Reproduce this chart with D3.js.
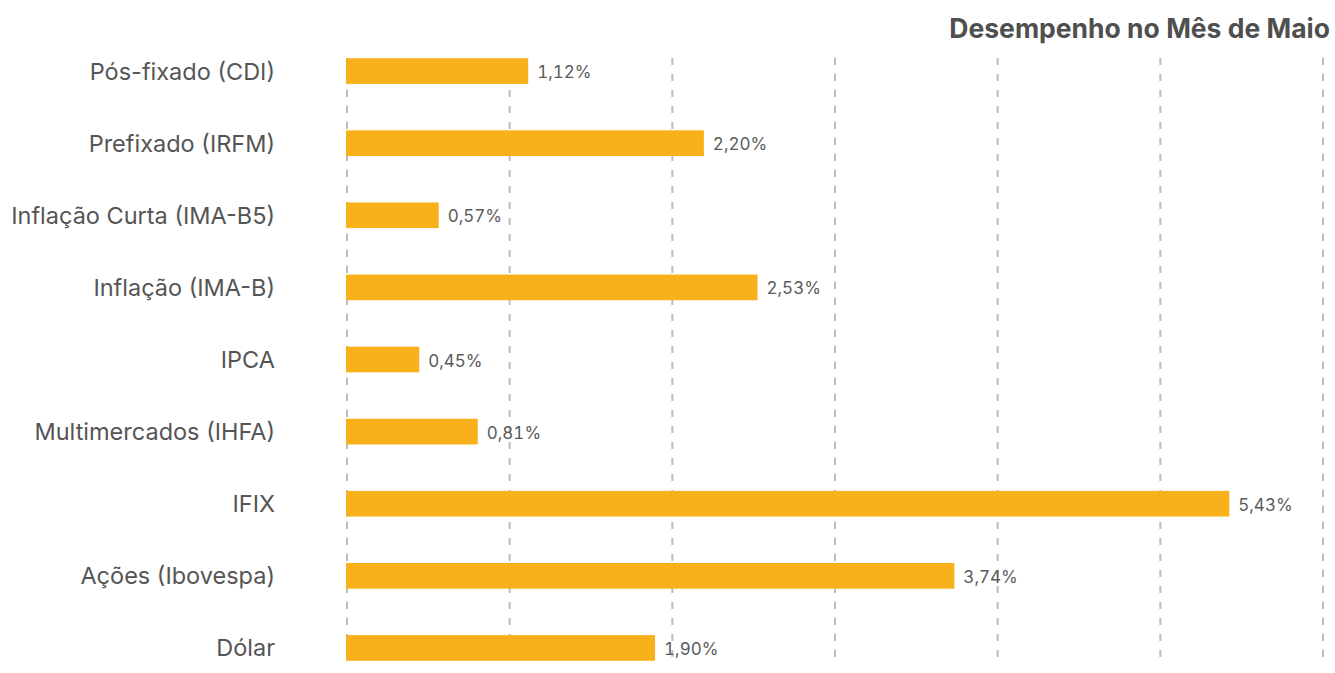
<!DOCTYPE html>
<html>
<head>
<meta charset="utf-8">
<script src="https://cdn.jsdelivr.net/npm/d3@7"></script>
<style>
  html, body { margin: 0; padding: 0; background: #fff; }
  #chart { width: 1335px; height: 673px; }
  text { font-family: Inter, "Noto Sans", sans-serif; }
</style>
</head>
<body>
<div id="chart"></div>
<script>
// dados
const categorias = [
  "Pós-fixado (CDI)",
  "Prefixado (IRFM)",
  "Inflação Curta (IMA-B5)",
  "Inflação (IMA-B)",
  "IPCA",
  "Multimercados (IHFA)",
  "IFIX",
  "Ações (Ibovespa)",
  "Dólar"
];
const valores = [1.12, 2.20, 0.57, 2.53, 0.45, 0.81, 5.43, 3.74, 1.90];
const gradeTicks = [0, 1, 2, 3, 4, 5, 6];
const titulo = "Desempenho no Mês de Maio";

const width = 1335, height = 673;
const margin = { top: 35, right: 13, left: 346 };

const svg = d3.select("#chart").append("svg")
  .attr("width", width)
  .attr("height", height);

const x = d3.scaleLinear()
  .domain([0, 6])
  .range([margin.left, width - margin.right]);

const y = d3.scaleBand()
  .domain(categorias)
  .range([margin.top, 684])
  .paddingInner(0.644)
  .paddingOuter(0.322);

// linhas de grade tracejadas
svg.append("g")
  .selectAll("line")
  .data(gradeTicks)
  .enter()
  .append("line")
  .attr("x1", d => x(d) + 1)
  .attr("x2", d => x(d) + 1)
  .attr("y1", 58)
  .attr("y2", 664)
  .attr("stroke", "#bdbdbd")
  .attr("stroke-width", 2)
  .attr("stroke-dasharray", "7,9");

// barras
svg.append("g")
  .selectAll("rect")
  .data(valores)
  .enter()
  .append("rect")
  .attr("x", x(0))
  .attr("y", (d, i) => y(categorias[i]))
  .attr("width", d => x(d) - x(0))
  .attr("height", y.bandwidth())
  .attr("fill", "#F8B11A");

// rótulos dos valores
svg.append("g")
  .selectAll("text")
  .data(valores)
  .enter()
  .append("text")
  .attr("x", d => x(d) + 9)
  .attr("y", (d, i) => y(categorias[i]) + y.bandwidth() / 2 + 7)
  .attr("fill", "#5a5a5a")
  .style("font-size", "17px")
  .style("font-feature-settings", "'tnum' 1")
  .text(d => d.toFixed(2).replace(".", ",") + "%");

// eixo das categorias
const eixo = svg.append("g")
  .attr("transform", "translate(275,0)")
  .call(d3.axisLeft(y).tickSize(0).tickPadding(0));
eixo.select(".domain").remove();
eixo.selectAll("text")
  .attr("fill", "#555")
  .style("font-size", "23.5px")
  .style("font-family", "Inter, 'Noto Sans', sans-serif")
  .attr("dy", "0.36em");

// título
svg.append("text")
  .attr("x", 1330)
  .attr("y", 38)
  .attr("text-anchor", "end")
  .attr("fill", "#4f4f4f")
  .style("font-size", "26.5px")
  .style("font-weight", "700")
  .text(titulo);
</script>
</body>
</html>
